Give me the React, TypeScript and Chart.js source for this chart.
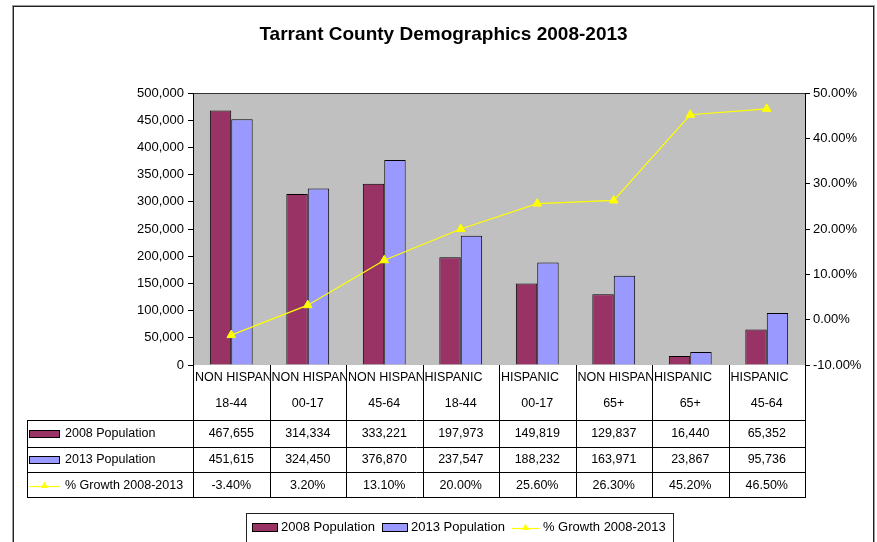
import { useEffect, useRef } from 'react';
import { Chart, registerables } from 'chart.js';

Chart.register(...registerables);

const groups = ['NON HISPAN', 'NON HISPAN', 'NON HISPAN', 'HISPANIC', 'HISPANIC', 'NON HISPAN', 'HISPANIC', 'HISPANIC'];
const ages = ['18-44', '00-17', '45-64', '18-44', '00-17', '65+', '65+', '45-64'];
const pop2008 = [467655, 314334, 333221, 197973, 149819, 129837, 16440, 65352];
const pop2013 = [451615, 324450, 376870, 237547, 188232, 163971, 23867, 95736];
const growth = [-3.4, 3.2, 13.1, 20.0, 25.6, 26.3, 45.2, 46.5];
const seriesNames = ['2008 Population', '2013 Population', '% Growth 2008-2013'];
const titleText = 'Tarrant County Demographics 2008-2013';
const popAxis = { min: 0, max: 500000, step: 50000 };
const pctAxis = { min: -10, max: 50, step: 10 };

const C2008 = '#993366';
const C2013 = '#9999FF';
const CLINE = '#FFFF00';
const FONT = '"Liberation Sans", Arial, sans-serif';

const fmtPop = (v: number) => v.toLocaleString('en-US');
const fmtPct = (v: number) => v.toFixed(2) + '%';

function hline(ctx: CanvasRenderingContext2D, x1: number, x2: number, y: number) {
  ctx.beginPath();
  ctx.moveTo(x1, y);
  ctx.lineTo(x2, y);
  ctx.stroke();
}
function vline(ctx: CanvasRenderingContext2D, x: number, y1: number, y2: number) {
  ctx.beginPath();
  ctx.moveTo(x, y1);
  ctx.lineTo(x, y2);
  ctx.stroke();
}
function triangle(ctx: CanvasRenderingContext2D, cx: number, cy: number, r: number) {
  ctx.beginPath();
  ctx.moveTo(cx, cy - r);
  ctx.lineTo(cx + r * 0.9, cy + r * 0.6);
  ctx.lineTo(cx - r * 0.9, cy + r * 0.6);
  ctx.closePath();
  ctx.fill();
}
function key(ctx: CanvasRenderingContext2D, idx: number, x: number, y: number, w: number, h: number) {
  if (idx < 2) {
    ctx.fillStyle = idx === 0 ? C2008 : C2013;
    ctx.fillRect(x, y - h / 2, w, h);
    ctx.strokeStyle = '#000';
    ctx.lineWidth = 1;
    ctx.strokeRect(Math.round(x) + 0.5, Math.round(y - h / 2) + 0.5, w - 1, h - 1);
  } else {
    ctx.strokeStyle = CLINE;
    ctx.lineWidth = 1.2;
    hline(ctx, x, x + w, Math.round(y) + 0.5);
    ctx.fillStyle = CLINE;
    triangle(ctx, x + w / 2, y, 4);
  }
}

const decor = {
  id: 'decor',
  beforeDraw(chart: any) {
    const { ctx, chartArea: a, width, height } = chart;
    ctx.save();
    ctx.fillStyle = '#fff';
    ctx.fillRect(0, 0, width, height);
    ctx.fillStyle = '#C0C0C0';
    ctx.fillRect(a.left, a.top, a.right - a.left, a.bottom - a.top);
    ctx.strokeStyle = '#333';
    ctx.lineWidth = 1;
    hline(ctx, a.left, a.right, Math.round(a.top) + 0.5);
    // outer chart border
    ctx.strokeStyle = '#9a9a9a';
    ctx.strokeRect(12.5, 5.5, 862, 600);
    ctx.strokeStyle = '#222';
    ctx.strokeRect(13.5, 6.5, 860, 600);
    ctx.restore();
  },
  afterDraw(chart: any) {
    const { ctx, chartArea: a } = chart;
    const x = chart.scales.x;
    const n = ages.length;
    const w = (x.right - x.left) / n;
    const top = Math.round(a.bottom);
    const lines = [top + 55, top + 81.5, top + 107, top + 132];
    const tableLeft = 27;
    ctx.save();
    ctx.strokeStyle = '#000';
    ctx.lineWidth = 1;
    for (let i = 0; i <= n; i++) {
      const px = Math.round(x.left + i * w) + 0.5;
      vline(ctx, px, top, lines[3] + 0.5);
    }
    vline(ctx, tableLeft + 0.5, lines[0], lines[3] + 0.5);
    for (const ly of lines) hline(ctx, tableLeft, Math.round(x.right) + 1, Math.round(ly) + 0.5);

    ctx.fillStyle = '#000';
    ctx.textBaseline = 'middle';
    ctx.font = `12.5px ${FONT}`;
    for (let i = 0; i < n; i++) {
      const cl = x.left + i * w;
      ctx.save();
      ctx.beginPath();
      ctx.rect(cl + 1, top, w - 1, 30);
      ctx.clip();
      ctx.textAlign = 'left';
      ctx.fillText(groups[i], cl + 2, top + 13);
      ctx.restore();
      ctx.textAlign = 'center';
      const cx = x.getPixelForValue(i);
      ctx.fillText(ages[i], cx, top + 39);
      ctx.fillText(fmtPop(pop2008[i]), cx, top + 69);
      ctx.fillText(fmtPop(pop2013[i]), cx, top + 95);
      ctx.fillText(fmtPct(growth[i]), cx, top + 120.5);
    }
    const rowY = [top + 69, top + 95, top + 120.5];
    for (let s = 0; s < 3; s++) {
      key(ctx, s, 29, rowY[s], 31, 8);
      ctx.fillStyle = '#000';
      ctx.textAlign = 'left';
      ctx.font = `12.5px ${FONT}`;
      ctx.fillText(seriesNames[s], 65, rowY[s]);
    }

    // bottom legend
    ctx.strokeStyle = '#222';
    ctx.lineWidth = 1;
    ctx.strokeRect(246.5, 513.5, 427, 60);
    const ly = 527.5;
    ctx.font = `13px ${FONT}`;
    let lx = 252;
    for (let s = 0; s < 3; s++) {
      key(ctx, s, lx, ly, s < 2 ? 26 : 27, 9);
      ctx.fillStyle = '#000';
      ctx.textAlign = 'left';
      const tx = lx + (s < 2 ? 29 : 31);
      ctx.fillText(seriesNames[s], tx, ly);
      lx = tx + ctx.measureText(seriesNames[s]).width + 7;
    }
    ctx.restore();
  },
};

export default function App() {
  const ref = useRef<HTMLCanvasElement | null>(null);
  useEffect(() => {
    document.body.style.margin = '0';
    const canvas = ref.current;
    if (!canvas) return;
    const chart = new Chart(canvas, {
      type: 'bar',
      data: {
        labels: groups.map((g, i) => g + ' ' + ages[i]),
        datasets: [
          {
            type: 'line',
            label: seriesNames[2],
            data: growth,
            yAxisID: 'y1',
            borderColor: CLINE,
            backgroundColor: CLINE,
            borderWidth: 1.2,
            pointStyle: 'triangle',
            pointRadius: 5,
            pointBackgroundColor: CLINE,
            pointBorderColor: CLINE,
            pointBorderWidth: 1,
            tension: 0,
            order: 0,
          } as any,
          {
            label: seriesNames[0],
            data: pop2008,
            yAxisID: 'y',
            backgroundColor: C2008,
            borderColor: '#000',
            borderWidth: 1,
            categoryPercentage: 0.56,
            barPercentage: 1,
            order: 1,
          },
          {
            label: seriesNames[1],
            data: pop2013,
            yAxisID: 'y',
            backgroundColor: C2013,
            borderColor: '#000',
            borderWidth: 1,
            categoryPercentage: 0.56,
            barPercentage: 1,
            order: 1,
          },
        ],
      },
      options: {
        responsive: false,
        animation: false,
        devicePixelRatio: 1,
        layout: { padding: { left: 10, right: 0, top: 0, bottom: 177 } },
        plugins: {
          legend: { display: false },
          tooltip: { enabled: false },
          title: {
            display: true,
            text: titleText,
            color: '#000',
            font: { family: FONT, size: 19, weight: 'bold' },
            padding: { top: 23, bottom: 47.2 },
          },
        },
        scales: {
          x: {
            offset: true,
            ticks: { display: false },
            grid: { display: false },
            border: { display: false },
            afterFit: (s: any) => {
              s.height = 0;
            },
          },
          y: {
            position: 'left',
            min: popAxis.min,
            max: popAxis.max,
            ticks: {
              stepSize: popAxis.step,
              color: '#000',
              font: { family: FONT, size: 13 },
              padding: 4,
              callback: (v: any) => fmtPop(Number(v)),
            },
            grid: { drawOnChartArea: false, color: '#000', tickLength: 5 },
            border: { display: true, color: '#000' },
            afterFit: (s: any) => {
              s.width = 183;
            },
          },
          y1: {
            position: 'right',
            min: pctAxis.min,
            max: pctAxis.max,
            ticks: {
              stepSize: pctAxis.step,
              color: '#000',
              font: { family: FONT, size: 13 },
              padding: 3,
              callback: (v: any) => fmtPct(Number(v)),
            },
            grid: { drawOnChartArea: false, color: '#000', tickLength: 5 },
            border: { display: true, color: '#000' },
            afterFit: (s: any) => {
              s.width = 72;
            },
          },
        },
      },
      plugins: [decor],
    });
    return () => chart.destroy();
  }, []);
  return (
    <div style={{ width: 877, height: 542 }}>
      <canvas ref={ref} width={877} height={542} style={{ display: 'block', width: 877, height: 542 }} />
    </div>
  );
}
